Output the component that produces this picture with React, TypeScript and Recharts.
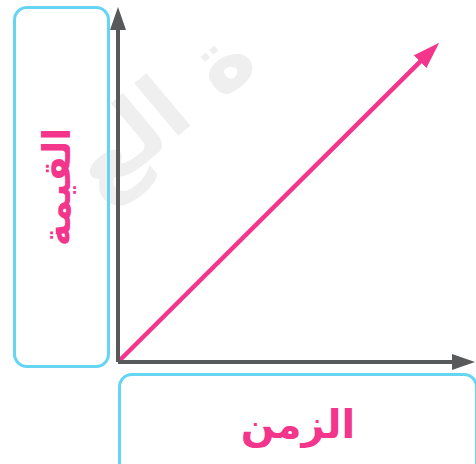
import { LineChart, Line, XAxis, YAxis } from "recharts";

// values: one straight rising line from the origin
const timeValues = [0, 9];
const amountValues = [0, 9];
const axisDomain = [0, 10];

const xLabel = "الزمن";
const yLabel = "القيمة";
const watermark = "ة الع";

const data = timeValues.map((t, i) => ({ time: t, value: amountValues[i] }));

const PINK = "#f4358c";
const AXIS = "#58595b";
const BOX = "#66d5f4";

export default function App() {
  return (
    <div
      style={{
        position: "absolute",
        left: 0,
        top: 0,
        width: 476,
        height: 464,
        overflow: "hidden",
        background: "#fff",
        fontFamily: "'DejaVu Sans', sans-serif",
      }}
    >
      <div
        style={{
          position: "absolute",
          left: 160,
          top: 110,
          transform: "translate(-50%, -50%) rotate(-40deg)",
          fontSize: 90,
          fontWeight: 700,
          color: "#efefef",
          whiteSpace: "nowrap",
          direction: "rtl",
        }}
      >
        {watermark}
      </div>

      <div
        style={{
          position: "absolute",
          left: 13,
          top: 6,
          width: 91,
          height: 356,
          border: `3px solid ${BOX}`,
          borderRadius: 14,
        }}
      />
      <div
        style={{
          position: "absolute",
          left: 57,
          top: 187,
          transform: "translate(-50%, -50%) rotate(-90deg)",
          fontSize: 38,
          fontWeight: 700,
          color: PINK,
          whiteSpace: "nowrap",
          direction: "rtl",
        }}
      >
        {yLabel}
      </div>

      <div
        style={{
          position: "absolute",
          left: 118,
          top: 373,
          width: 354,
          height: 110,
          border: `3px solid ${BOX}`,
          borderRadius: 14,
        }}
      />
      <div
        style={{
          position: "absolute",
          left: 298,
          top: 424,
          transform: "translate(-50%, -50%)",
          fontSize: 40,
          fontWeight: 700,
          color: PINK,
          whiteSpace: "nowrap",
          direction: "rtl",
        }}
      >
        {xLabel}
      </div>

      <LineChart
        width={476}
        height={464}
        data={data}
        margin={{ top: 26, right: 20, bottom: 101, left: 117 }}
        style={{ position: "absolute", left: 0, top: 0 }}
      >
        <defs>
          <marker
            id="axisHead"
            markerUnits="userSpaceOnUse"
            markerWidth={26}
            markerHeight={18}
            refX={4}
            refY={8}
            orient="auto-start-reverse"
          >
            <path d="M0,0 L23,8 L0,16 z" fill={AXIS} />
          </marker>
          <marker
            id="lineHead"
            markerUnits="userSpaceOnUse"
            markerWidth={30}
            markerHeight={20}
            refX={3}
            refY={9}
            orient="auto"
          >
            <path d="M0,0 L27,9 L0,18 z" fill={PINK} />
          </marker>
        </defs>
        <XAxis
          dataKey="time"
          type="number"
          domain={axisDomain}
          height={1}
          tick={false}
          tickLine={false}
          axisLine={{ stroke: AXIS, strokeWidth: 4, markerEnd: "url(#axisHead)" }}
        />
        <YAxis
          type="number"
          domain={axisDomain}
          width={1}
          tick={false}
          tickLine={false}
          axisLine={{ stroke: AXIS, strokeWidth: 4, markerStart: "url(#axisHead)" }}
        />
        <Line
          type="linear"
          dataKey="value"
          stroke={PINK}
          strokeWidth={4.5}
          dot={false}
          activeDot={false}
          markerEnd="url(#lineHead)"
          isAnimationActive={false}
        />
      </LineChart>
    </div>
  );
}
